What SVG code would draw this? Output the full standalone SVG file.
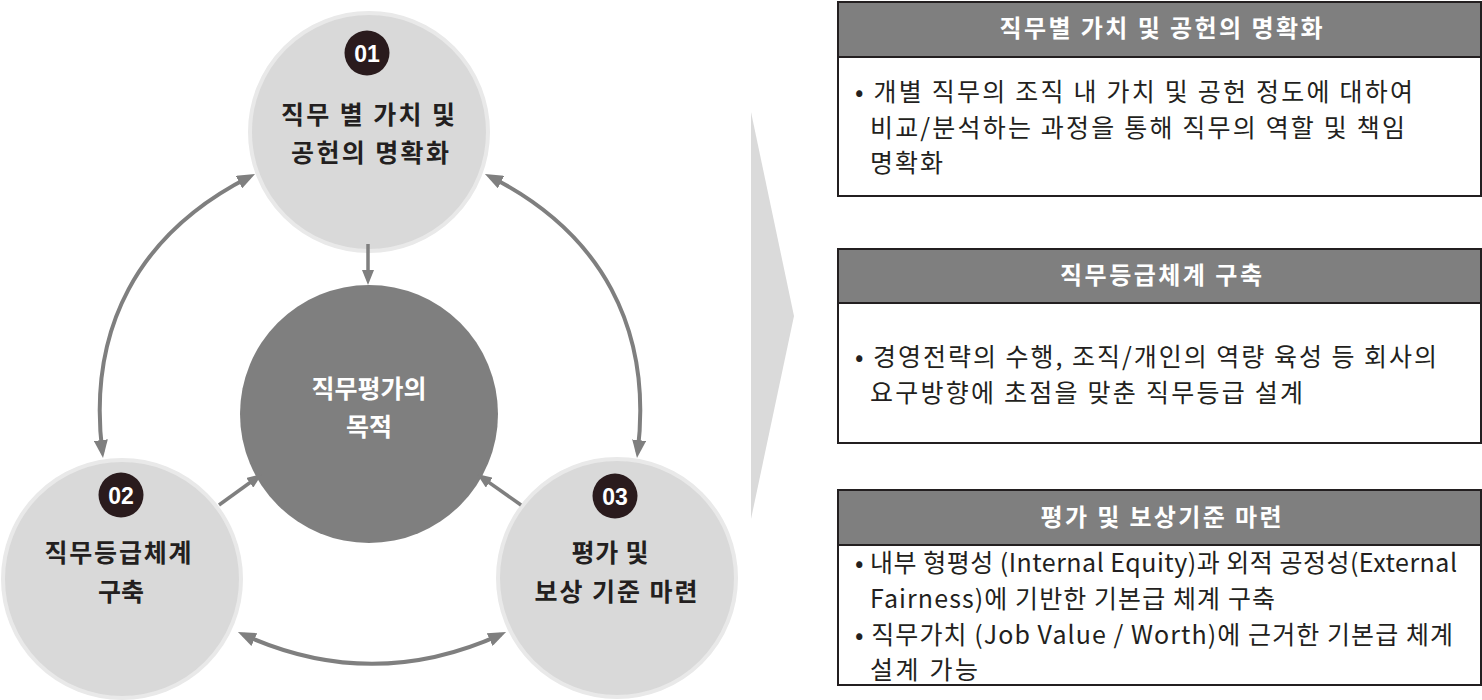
<svg xmlns="http://www.w3.org/2000/svg" width="1482" height="700" viewBox="0 0 1482 700">
<style>
.circ{fill:#d9d9d9;stroke:#e9e9e9;stroke-width:4}
.badge{fill:#2a1b1d}
.num{font-family:"Liberation Sans",Arial,sans-serif;font-weight:bold;font-size:23px;fill:#ffffff;text-anchor:middle}
.ctext{font-family:"Noto Sans CJK KR","Noto Sans",sans-serif;font-weight:bold;font-size:25px;fill:#231f20;text-anchor:middle}
.mtext{font-family:"Noto Sans CJK KR","Noto Sans",sans-serif;font-weight:bold;font-size:25px;fill:#ffffff;text-anchor:middle}
.box{fill:#ffffff;stroke:#231f20;stroke-width:2}
.hdr{fill:#7f7f7f;stroke:#231f20;stroke-width:2}
.htext{font-family:"Noto Sans CJK KR","Noto Sans",sans-serif;font-weight:bold;font-size:24px;fill:#ffffff;text-anchor:middle}
.btext{font-family:"Noto Sans CJK KR","Noto Sans",sans-serif;font-size:25px;fill:#231f20}
.arc{fill:none;stroke:#7f7f7f;stroke-width:4}
.str{fill:none;stroke:#7f7f7f;stroke-width:3.5}
</style>
<defs>
<marker id="ah" markerUnits="userSpaceOnUse" markerWidth="18" markerHeight="14" refX="12" refY="7" orient="auto-start-reverse">
<path d="M0,0 L18,7 L0,14 z" fill="#7f7f7f"/>
</marker>
<marker id="ahs" markerUnits="userSpaceOnUse" markerWidth="15" markerHeight="12" refX="10" refY="6" orient="auto">
<path d="M0,0 L15,6 L0,12 z" fill="#7f7f7f"/>
</marker>
</defs>
<rect width="1482" height="700" fill="#ffffff"/>

<g id="chevron">
<polygon points="751,112 794,316 751,519" fill="#dadada"/>
</g>

<g id="node-01">
<circle class="circ" cx="369" cy="132" r="119"/>
<circle class="badge" cx="367" cy="53" r="22.5"/>
<text class="num" x="367" y="61.5">01</text>
<text class="ctext" x="368" y="124" textLength="174" lengthAdjust="spacing">직무 별 가치 및</text>
<text class="ctext" x="370" y="162" textLength="158" lengthAdjust="spacing">공헌의 명확화</text>
</g>

<g id="node-02">
<circle class="circ" cx="122" cy="579" r="119"/>
<circle class="badge" cx="121" cy="495" r="22.5"/>
<text class="num" x="121" y="503.5">02</text>
<text class="ctext" x="118" y="562" textLength="147" lengthAdjust="spacing">직무등급체계</text>
<text class="ctext" x="121" y="601">구축</text>
</g>

<g id="node-03">
<circle class="circ" cx="617" cy="578" r="119"/>
<circle class="badge" cx="615" cy="496" r="22.5"/>
<text class="num" x="615" y="504.5">03</text>
<text class="ctext" x="610" y="562" textLength="77" lengthAdjust="spacing">평가 및</text>
<text class="ctext" x="616" y="601" textLength="163" lengthAdjust="spacing">보상 기준 마련</text>
</g>

<g id="node-center">
<circle cx="369" cy="414" r="129" fill="#7f7f7f"/>
<text class="mtext" x="369" y="398">직무평가의</text>
<text class="mtext" x="369" y="436">목적</text>
</g>

<g id="connectors">
<path class="arc" d="M249.7,176.7 C138.5,233 87.3,328.4 102.3,452.1" marker-start="url(#ah)" marker-end="url(#ah)"/>
<path class="arc" d="M490.3,176.7 C601.5,233 652.7,328.4 637.7,452.1" marker-start="url(#ah)" marker-end="url(#ah)"/>
<path class="arc" d="M243.4,634.6 Q372,693 500.6,634.6" marker-start="url(#ah)" marker-end="url(#ah)"/>
<path class="str" d="M368,244 L368,280" marker-end="url(#ahs)"/>
<path class="str" d="M219,505 L257.9,476.9" marker-end="url(#ahs)"/>
<path class="str" d="M521,505 L481.1,476.9" marker-end="url(#ahs)"/>
</g>

<g id="box-1">
<rect class="box" x="838" y="2" width="643" height="194"/>
<rect class="hdr" x="838" y="2" width="643" height="55"/>
<text class="htext" x="1161" y="37" textLength="323" lengthAdjust="spacing">직무별 가치 및 공헌의 명확화</text>
<text class="btext" x="855" y="101" textLength="558" lengthAdjust="spacing">• 개별 직무의 조직 내 가치 및 공헌 정도에 대하여</text>
<text class="btext" x="870" y="137" textLength="535" lengthAdjust="spacing">비교/분석하는 과정을 통해 직무의 역할 및 책임</text>
<text class="btext" x="870" y="172" textLength="73" lengthAdjust="spacing">명확화</text>
</g>

<g id="box-2">
<rect class="box" x="838" y="249" width="643" height="194"/>
<rect class="hdr" x="838" y="249" width="643" height="54"/>
<text class="htext" x="1161" y="284" textLength="202" lengthAdjust="spacing">직무등급체계 구축</text>
<text class="btext" x="855" y="366" textLength="582" lengthAdjust="spacing">• 경영전략의 수행, 조직/개인의 역량 육성 등 회사의</text>
<text class="btext" x="870" y="402" textLength="433" lengthAdjust="spacing">요구방향에 초점을 맞춘 직무등급 설계</text>
</g>

<g id="box-3">
<rect class="box" x="838" y="490" width="643" height="195"/>
<rect class="hdr" x="838" y="490" width="643" height="55"/>
<text class="htext" x="1161" y="526" textLength="241" lengthAdjust="spacing">평가 및 보상기준 마련</text>
<text class="btext" x="855" y="572" textLength="602" lengthAdjust="spacing">• 내부 형평성 (Internal Equity)과 외적 공정성(External</text>
<text class="btext" x="870" y="608" textLength="405" lengthAdjust="spacing">Fairness)에 기반한 기본급 체계 구축</text>
<text class="btext" x="855" y="644" textLength="598" lengthAdjust="spacing">• 직무가치 (Job Value / Worth)에 근거한 기본급 체계</text>
<text class="btext" x="870" y="679" textLength="108" lengthAdjust="spacing">설계 가능</text>
</g>
</svg>
